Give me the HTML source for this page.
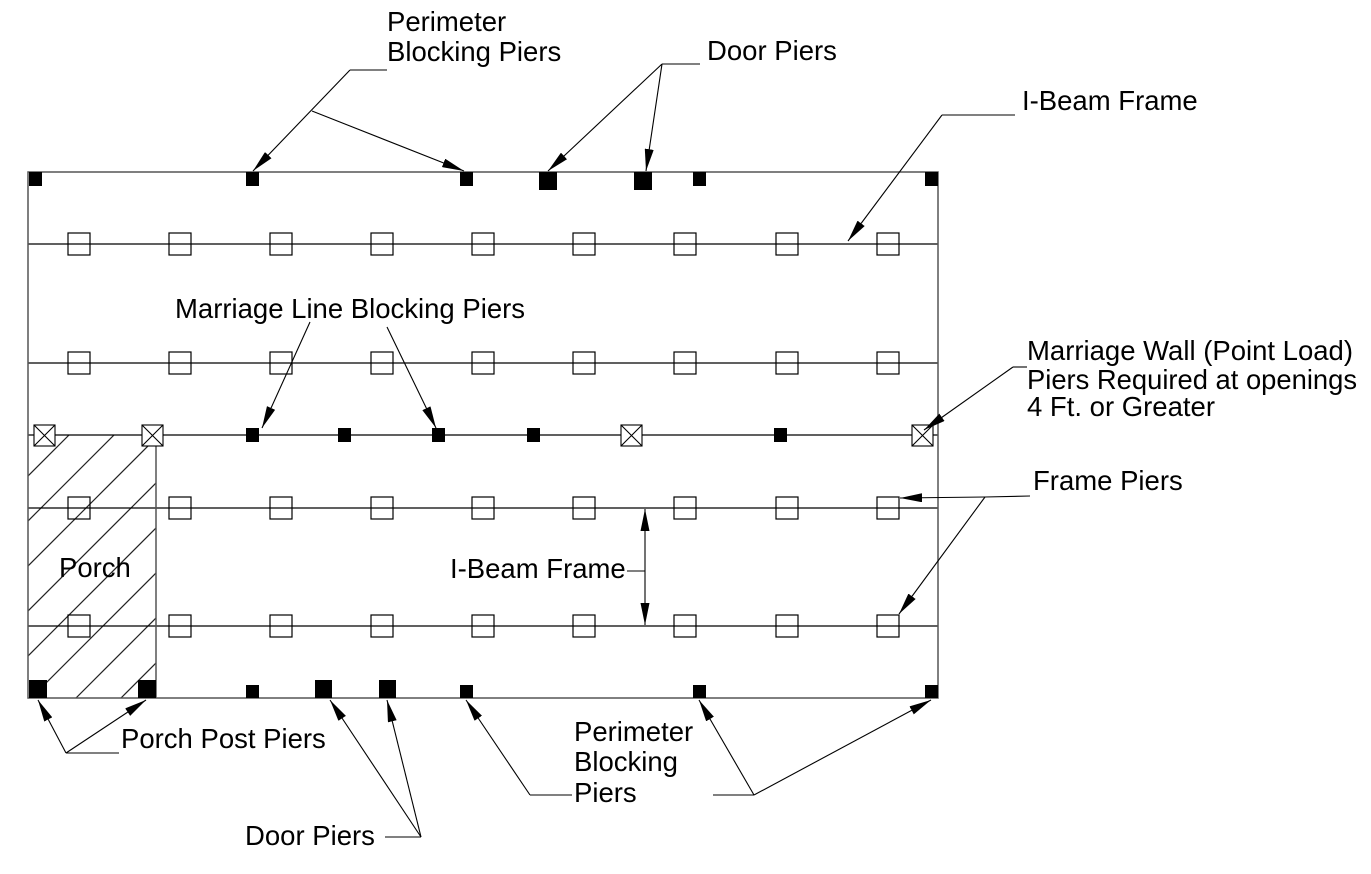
<!DOCTYPE html>
<html><head><meta charset="utf-8"><style>
html,body{margin:0;padding:0;background:#fff;overflow:hidden;width:1371px;height:874px;}
svg{display:block;}
text{font-family:"Liberation Sans",Arial,sans-serif;font-size:27.5px;fill:#000;}
</style></head><body>
<svg width="1371" height="874" viewBox="0 0 1371 874" xmlns="http://www.w3.org/2000/svg">
<defs>
<marker id="a" viewBox="0 0 22 9" refX="22" refY="4.5" markerWidth="22" markerHeight="9" markerUnits="userSpaceOnUse" orient="auto"><path d="M0,0 L22,4.5 L0,9 Z" fill="#000"/></marker>
<clipPath id="pc"><rect x="28" y="435" width="128" height="263"/></clipPath>
<g id="row" fill="none" stroke="#000" stroke-width="1.2">
<rect x="68" y="-11" width="22" height="22"/><rect x="169" y="-11" width="22" height="22"/><rect x="270" y="-11" width="22" height="22"/><rect x="371" y="-11" width="22" height="22"/><rect x="472" y="-11" width="22" height="22"/><rect x="573" y="-11" width="22" height="22"/><rect x="674" y="-11" width="22" height="22"/><rect x="776" y="-11" width="22" height="22"/><rect x="877" y="-11" width="22" height="22"/>
</g>
</defs>
<g clip-path="url(#pc)" stroke="#222" stroke-width="1.2">
<line x1="-100" y1="604" x2="504" y2="0"/>
<line x1="-100" y1="649" x2="549" y2="0"/>
<line x1="-100" y1="694" x2="594" y2="0"/>
<line x1="-100" y1="739" x2="639" y2="0"/>
<line x1="-100" y1="784" x2="684" y2="0"/>
<line x1="-100" y1="829" x2="729" y2="0"/>
<line x1="-100" y1="874" x2="774" y2="0"/>
<line x1="-100" y1="919" x2="819" y2="0"/>
<line x1="-100" y1="964" x2="864" y2="0"/>
</g>
<g stroke="#000" stroke-width="1.3">
<line x1="28" y1="244" x2="938" y2="244"/>
<line x1="28" y1="363" x2="938" y2="363"/>
<line x1="28" y1="435" x2="938" y2="435"/>
<line x1="28" y1="508" x2="938" y2="508"/>
<line x1="28" y1="626" x2="938" y2="626"/>
</g>
<rect x="28" y="172" width="910" height="526" fill="none" stroke="#555" stroke-width="1.5"/>
<line x1="156" y1="435" x2="156" y2="698" stroke="#555" stroke-width="1.5"/>
<use href="#row" y="244"/><use href="#row" y="363"/><use href="#row" y="508"/><use href="#row" y="626"/>
<g fill="#fff" stroke="#000" stroke-width="1.1">
<rect x="34" y="425" width="21" height="21"/><path d="M34,425 L55,446 M55,425 L34,446"/>
<rect x="142" y="425" width="21" height="21"/><path d="M142,425 L163,446 M163,425 L142,446"/>
<rect x="621" y="425" width="21" height="21"/><path d="M621,425 L642,446 M642,425 L621,446"/>
<rect x="912" y="425" width="21" height="21"/><path d="M912,425 L933,446 M933,425 L912,446"/>
</g>
<g fill="#000">
<rect x="246" y="428" width="13" height="14"/><rect x="338" y="428" width="13" height="14"/><rect x="432" y="428" width="13" height="14"/><rect x="527" y="428" width="13" height="14"/><rect x="774" y="428" width="13" height="14"/>
<rect x="29" y="172" width="13" height="14"/><rect x="246" y="172" width="13" height="14"/><rect x="460" y="172" width="13" height="14"/><rect x="539" y="172" width="18" height="18"/><rect x="634" y="172" width="18" height="18"/><rect x="693" y="172" width="13" height="14"/><rect x="925" y="172" width="13" height="14"/>
<rect x="29" y="680" width="18" height="18"/><rect x="138" y="680" width="18" height="18"/><rect x="246" y="685" width="13" height="13"/><rect x="315" y="680" width="17" height="18"/><rect x="379" y="680" width="17" height="18"/><rect x="460" y="685" width="13" height="13"/><rect x="693" y="685" width="13" height="13"/><rect x="925" y="685" width="13" height="13"/>
</g>
<g stroke="#000" stroke-width="1.1" fill="none">
<line x1="350" y1="70" x2="387" y2="70"/>
<line x1="350" y1="70" x2="253" y2="171" marker-end="url(#a)"/>
<line x1="312" y1="111" x2="464" y2="171" marker-end="url(#a)"/>
<line x1="662" y1="64" x2="700" y2="64"/>
<line x1="662" y1="64" x2="548" y2="171" marker-end="url(#a)"/>
<line x1="662" y1="64" x2="646" y2="171" marker-end="url(#a)"/>
<line x1="942" y1="115" x2="1015" y2="115"/>
<line x1="942" y1="115" x2="848" y2="241" marker-end="url(#a)"/>
<line x1="310" y1="322" x2="262" y2="428" marker-end="url(#a)"/>
<line x1="387" y1="327" x2="436" y2="428" marker-end="url(#a)"/>
<line x1="1013" y1="367" x2="1027" y2="367"/>
<line x1="1013" y1="367" x2="924" y2="430" marker-end="url(#a)"/>
<line x1="985" y1="497" x2="1030" y2="496"/>
<line x1="985" y1="497" x2="900" y2="498" marker-end="url(#a)"/>
<line x1="985" y1="497" x2="899" y2="614" marker-end="url(#a)"/>
<line x1="627" y1="571" x2="645" y2="571"/>
<line x1="645" y1="571" x2="645" y2="509" marker-end="url(#a)"/>
<line x1="645" y1="571" x2="645" y2="625" marker-end="url(#a)"/>
<line x1="66" y1="753" x2="119" y2="753"/>
<line x1="66" y1="753" x2="38" y2="700" marker-end="url(#a)"/>
<line x1="66" y1="753" x2="146" y2="700" marker-end="url(#a)"/>
<line x1="385" y1="837" x2="421" y2="837"/>
<line x1="421" y1="837" x2="330" y2="700" marker-end="url(#a)"/>
<line x1="421" y1="837" x2="387" y2="700" marker-end="url(#a)"/>
<line x1="530" y1="795" x2="572" y2="795"/>
<line x1="530" y1="795" x2="466" y2="700" marker-end="url(#a)"/>
<line x1="713" y1="795" x2="754" y2="795"/>
<line x1="754" y1="795" x2="699" y2="700" marker-end="url(#a)"/>
<line x1="754" y1="795" x2="931" y2="700" marker-end="url(#a)"/>
</g>
<text x="387" y="31">Perimeter</text>
<text x="387" y="61">Blocking Piers</text>
<text x="707" y="60">Door Piers</text>
<text x="1022" y="110">I-Beam Frame</text>
<text x="175" y="318">Marriage Line Blocking Piers</text>
<text x="1027" y="360" textLength="326" lengthAdjust="spacingAndGlyphs">Marriage Wall (Point Load)</text>
<text x="1027" y="389" textLength="330" lengthAdjust="spacingAndGlyphs">Piers Required at openings</text>
<text x="1027" y="416">4 Ft. or Greater</text>
<text x="1033" y="490">Frame Piers</text>
<text x="59" y="577">Porch</text>
<text x="450" y="578">I-Beam Frame</text>
<text x="121" y="748">Porch Post Piers</text>
<text x="574" y="741">Perimeter</text>
<text x="574" y="771">Blocking</text>
<text x="574" y="802">Piers</text>
<text x="245" y="845">Door Piers</text>
</svg>
</body></html>
